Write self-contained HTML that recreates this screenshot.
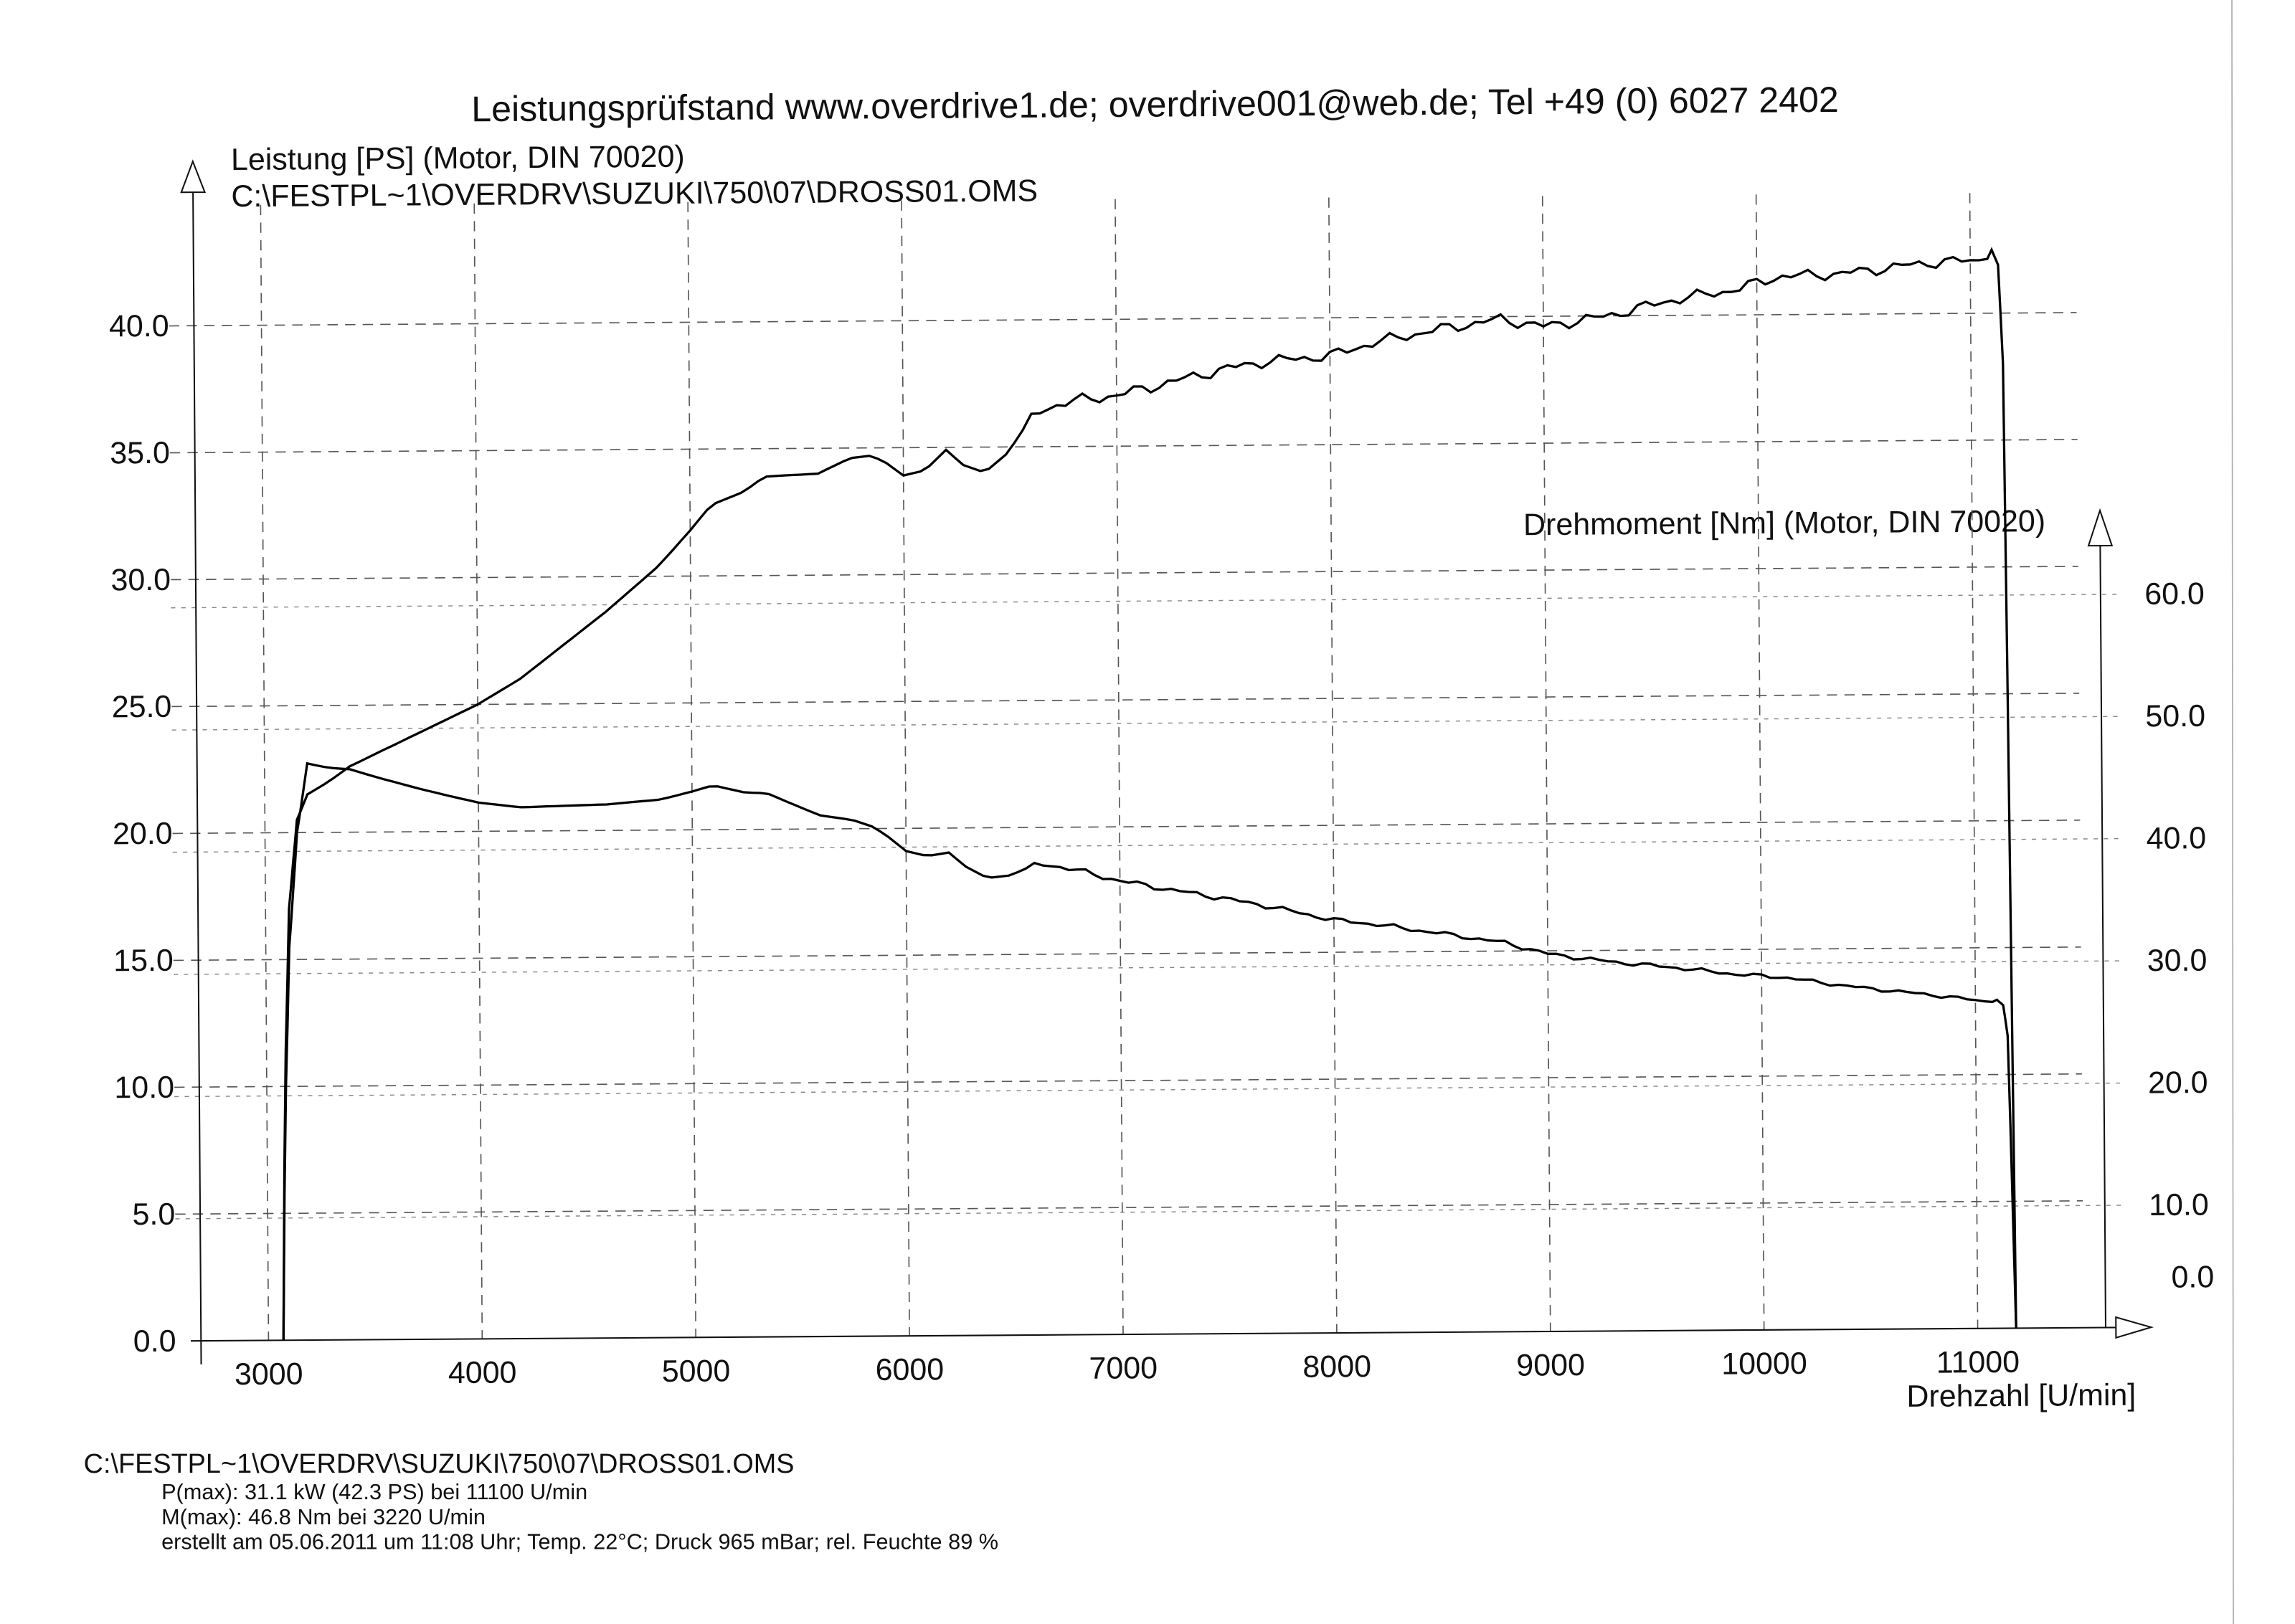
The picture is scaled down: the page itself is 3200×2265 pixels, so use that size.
<!DOCTYPE html>
<html><head><meta charset="utf-8"><style>
html,body{margin:0;padding:0;background:#fff;}
svg{display:block;}
text{font-family:"Liberation Sans",Arial,sans-serif;fill:#111;}
</style></head><body>
<svg id="s" width="3200" height="2265" viewBox="0 0 1564 1107" xmlns="http://www.w3.org/2000/svg">
<rect width="1564" height="1107" fill="#fff"/>
<line x1="1521" y1="0" x2="1522" y2="1107" stroke="#aaa" stroke-width="0.8"/>
<g id="g" transform="rotate(-0.4 137 914)">
<text x="793" y="84" font-size="24.5" text-anchor="middle">Leistungsprüfstand www.overdrive1.de; overdrive001@web.de; Tel +49 (0) 6027 2402</text>
<text x="163" y="116" font-size="21">Leistung [PS] (Motor, DIN 70020)</text>
<text x="163" y="141" font-size="21">C:\FESTPL~1\OVERDRV\SUZUKI\750\07\DROSS01.OMS</text>
<text x="1042" y="371" font-size="21">Drehmoment [Nm] (Motor, DIN 70020)</text>
<text x="1299" y="967" font-size="21">Drehzahl [U/min]</text>
<g id="grid"></g>
<line x1="137" y1="130" x2="137" y2="930" stroke="#111" stroke-width="1"/>
<polygon points="129,131 145,131 137,110" fill="#fff" stroke="#111" stroke-width="1"/>
<line x1="1435" y1="380" x2="1435" y2="914" stroke="#111" stroke-width="1"/>
<polygon points="1427,381 1443,381 1435,357" fill="#fff" stroke="#111" stroke-width="1"/>
<line x1="130" y1="914" x2="1443" y2="914" stroke="#111" stroke-width="1"/>
<polygon points="1442,907 1442,921 1466,914" fill="#fff" stroke="#111" stroke-width="1"/>
<g id="labels" font-size="21"></g>
<path id="pw" fill="none" stroke="#000" stroke-width="1.6"/>
<path id="tq" fill="none" stroke="#000" stroke-width="1.6"/>
</g>
<text x="57" y="1004" font-size="18.5">C:\FESTPL~1\OVERDRV\SUZUKI\750\07\DROSS01.OMS</text>
<text x="110" y="1022" font-size="15">P(max): 31.1 kW (42.3 PS) bei 11100 U/min</text>
<text x="110" y="1039" font-size="15">M(max): 46.8 Nm bei 3220 U/min</text>
<text x="110" y="1056" font-size="15">erstellt am 05.06.2011 um 11:08 Uhr; Temp. 22°C; Druck 965 mBar; rel. Feuchte 89 %</text>
</svg>
<script>
var NS="http://www.w3.org/2000/svg";
function X(r){return 183+(r-3000)*0.1456;}
function YP(p){return 914-p*17.3;}
function YT(n){return 914-n*8.33;}
function el(par,tag,a,txt){var e=document.createElementNS(NS,tag);for(var k in a)e.setAttribute(k,a[k]);if(txt)e.textContent=txt;document.getElementById(par).appendChild(e);return e;}
for(var i=1;i<=8;i++){var y=YP(i*5);el("grid","line",{x1:120,y1:y,x2:1420,y2:y,stroke:"#555","stroke-width":0.8,"stroke-dasharray":"7 5"});}
for(var i=1;i<=6;i++){var y=YT(i*10);el("grid","line",{x1:120,y1:y,x2:1450,y2:y,stroke:"#888","stroke-width":0.7,"stroke-dasharray":"3 4"});}
for(var r=3000;r<=11000;r+=1000){var x=X(r);el("grid","line",{x1:x,y1:140,x2:x,y2:914,stroke:"#555","stroke-width":0.8,"stroke-dasharray":"7 5"});
el("labels","text",{x:x,y:944,"text-anchor":"middle"},String(r));}
for(var i=0;i<=8;i++){el("labels","text",{x:120,y:YP(i*5)+7,"text-anchor":"end"},(i*5).toFixed(1));}
for(var i=1;i<=6;i++){el("labels","text",{x:1465,y:YT(i*10)+7},(i*10).toFixed(1));}
el("labels","text",{x:1480,y:887},"0.0");
var K=[[3070,0],[3085,10],[3110,17],[3150,20.5],[3200,21.5],[3300,22],[3400,22.6],[3500,23],[3700,23.8],[4000,25],[4200,26],[4400,27.3],[4600,28.6],[4850,30.4],[5000,31.8],[5100,32.8],[5250,33.3],[5350,33.9],[5600,34],[5750,34.6],[5850,34.7],[5920,34.4],[6000,33.9],[6100,34.1],[6200,34.9],[6280,34.3],[6380,34],[6480,34.7],[6550,35.5],[6600,36.3],[6700,36.6],[6800,36.8],[7000,37.0],[7200,37.4],[7500,38.0],[7700,38.3],[8000,38.5],[8200,39],[8500,39.5],[8800,39.9],[9000,39.6],[9300,40],[9600,40.6],[9900,41],[10100,41.5],[10400,41.6],[10800,42],[11050,42.1],[11100,42.5],[11130,41.9],[11150,38],[11165,20],[11175,5],[11180,0]];
function P(r){for(var i=0;i<K.length-1;i++){if(r<=K[i+1][0]){var a=K[i],b=K[i+1];return a[1]+(b[1]-a[1])*(r-a[0])/(b[0]-a[0]);}}return 0;}
var pts=[];for(var r=3070;r<=11180;r+=10){if(r>3170&&r<11100&&r%40)continue;pts.push(r);}
var dp="",dt="";
pts.forEach(function(r,i){var p=P(r);var n=(r>6600&&r<11100)?0.25*Math.sin(r*0.037)*Math.cos(r*0.011):0;p+=n;
var t=r<3200?(p*7023/3200)*(0.8+0.2*(r-3070)/130):p*7023/r;
dp+=(i?"L":"M")+X(r).toFixed(1)+","+YP(p).toFixed(1);
dt+=(i?"L":"M")+X(r).toFixed(1)+","+YT(t).toFixed(1);});
document.getElementById("pw").setAttribute("d",dp);
document.getElementById("tq").setAttribute("d",dt);
</script>
</body></html>
